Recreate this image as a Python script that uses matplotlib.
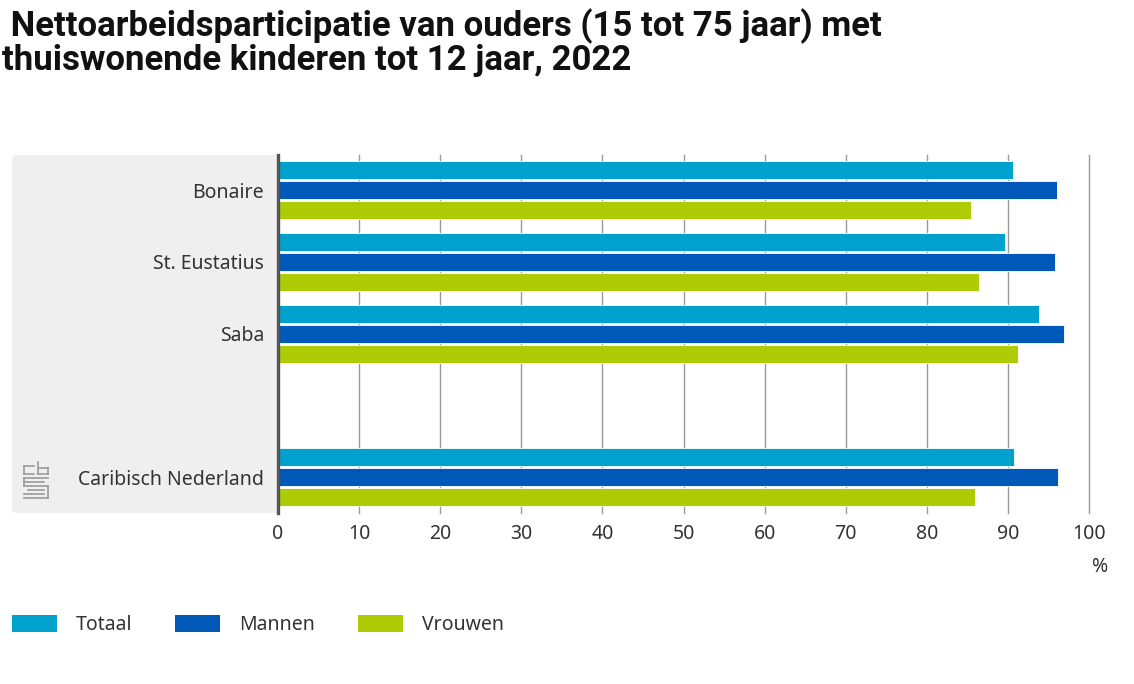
import matplotlib
matplotlib.use("Agg")
import matplotlib.pyplot as plt
from matplotlib.patches import FancyBboxPatch, Patch
import numpy as np

# data
regions = ["Bonaire", "St. Eustatius", "Saba", "Caribisch Nederland"]
region_pos = [0, 1, 2, 4]
totaal = [90.6, 89.7, 93.8, 90.7]
mannen = [96.0, 95.8, 96.9, 96.2]
vrouwen = [85.4, 86.4, 91.2, 85.9]
series_names = ["Totaal", "Mannen", "Vrouwen"]
colors = ["#00A1CD", "#0058B8", "#AFCB05"]
xticks = list(range(0, 101, 10))

plt.rcParams["font.family"] = ["Noto Sans", "DejaVu Sans"]
TXT = "#333333"

W, H = 1134, 684
fig = plt.figure(figsize=(W / 100, H / 100), dpi=100)

def fx(px):
    return px / W

def fy(py):
    return 1 - py / H

# axes area
ax = fig.add_axes([fx(278), fy(513), fx(1089) - fx(278), fy(155) - fy(513)])
ax.set_facecolor("white")

# gray label panel
panel = FancyBboxPatch((fx(12), fy(513)), fx(290) - fx(12), fy(155) - fy(513),
                       boxstyle="round,pad=0,rounding_size=0.006",
                       transform=fig.transFigure, facecolor="#EFEFEF",
                       edgecolor="none", zorder=-1)
fig.patches.append(panel)

bar_h = 0.25
offsets = [-0.278, 0, 0.278]
for vals, off, c, name in zip([totaal, mannen, vrouwen], offsets, colors, series_names):
    ax.barh(np.array(region_pos) + off, vals, height=bar_h, color=c,
            edgecolor="white", linewidth=0.6, zorder=3, label=name)

ax.set_xlim(0, 100)
ax.set_ylim(4.5, -0.49)
ax.set_xticks(xticks)
ax.set_xticklabels([str(t) for t in xticks], fontsize=14, color=TXT)
ax.set_yticks(region_pos)
ax.set_yticklabels(regions, fontsize=14, color=TXT)
ax.tick_params(axis="both", length=0)
ax.tick_params(axis="x", pad=8)
ax.tick_params(axis="y", pad=10)
ax.grid(axis="x", color="#9A9A9A", linewidth=1.0, zorder=0)
for gl in ax.get_xgridlines():
    gl.set_clip_on(False)
for s in ["top", "right", "bottom"]:
    ax.spines[s].set_visible(False)
ax.spines["left"].set_color("#555555")
ax.spines["left"].set_linewidth(2.4)
ax.spines["left"].set_zorder(5)

fig.text(fx(1100), fy(567), "%", fontsize=14, color=TXT, ha="center", va="center")

# title
fig.text(fx(2), fy(8), " Nettoarbeidsparticipatie van ouders (15 tot 75 jaar) met\nthuiswonende kinderen tot 12 jaar, 2022",
         fontsize=25, fontweight="bold", family=["Roboto", "DejaVu Sans"],
         color="#111111", ha="left", va="top", linespacing=1.02)

# simple cbs logo
logo_c = "#9A9A9A"
for (x0, y0, x1, y1) in [(24, 466, 34, 466), (24, 466, 24, 474), (24, 474, 34, 474),
                         (38, 462, 38, 474), (38, 468, 48, 468), (48, 468, 48, 474), (38, 474, 48, 474),
                         (24, 478, 48, 478), (24, 478, 24, 486), (24, 486, 48, 486),
                         (48, 486, 48, 498), (24, 498, 48, 498), (24, 482, 44, 482),
                         (28, 490, 44, 490), (24, 494, 44, 494)]:
    fig.add_artist(plt.Line2D([fx(x0), fx(x1)], [fy(y0), fy(y1)], color=logo_c,
                              linewidth=1.2, transform=fig.transFigure))

# legend
handles = [Patch(facecolor=c, edgecolor="none") for c in colors]
fig.legend(handles, series_names, loc="center left", bbox_to_anchor=(fx(12), fy(625)),
           ncol=3, frameon=False, fontsize=14, handlelength=2.3, handleheight=0.95,
           handletextpad=1.0, columnspacing=2.2, borderpad=0, borderaxespad=0,
           labelcolor=TXT)

fig.savefig("out.png", dpi=100)
